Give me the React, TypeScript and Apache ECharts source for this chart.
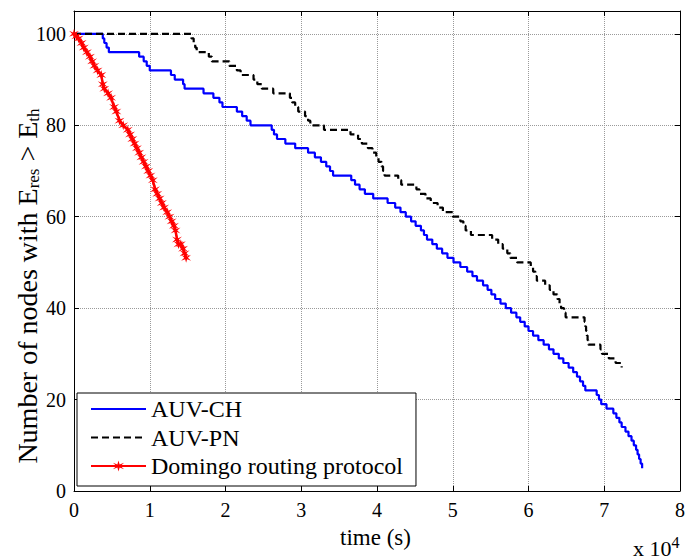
import React, { useEffect, useRef } from "react";
import * as echarts from "echarts";

// time in units of 1e4 s, number of nodes (step changes)
const auvChT = [0, 0.38, 0.40, 0.43, 0.46, 0.86, 0.92, 0.96, 1.00, 1.28, 1.33, 1.44, 1.46, 1.71, 1.84, 1.92, 1.96, 2.15, 2.22, 2.28, 2.33, 2.61, 2.64, 2.68, 2.79, 2.92, 3.09, 3.18, 3.26, 3.33, 3.38, 3.42, 3.66, 3.71, 3.77, 3.84, 3.95, 4.14, 4.24, 4.31, 4.38, 4.45, 4.51, 4.58, 4.62, 4.66, 4.73, 4.79, 4.86, 4.93, 5.01, 5.10, 5.19, 5.26, 5.32, 5.40, 5.46, 5.51, 5.56, 5.63, 5.70, 5.77, 5.84, 5.89, 5.95, 6.00, 6.06, 6.13, 6.20, 6.27, 6.33, 6.40, 6.46, 6.53, 6.59, 6.64, 6.68, 6.72, 6.75, 6.90, 6.93, 6.96, 7.03, 7.12, 7.16, 7.20, 7.23, 7.28, 7.32, 7.36, 7.39, 7.42, 7.44, 7.46, 7.48, 7.50];
const auvChN = [100, 99, 98, 97, 96, 95, 94, 93, 92, 91, 90, 89, 88, 87, 86, 85, 84, 83, 82, 81, 80, 79, 78, 77, 76, 75, 74, 73, 72, 71, 70, 69, 68, 67, 66, 65, 64, 63, 62, 61, 60, 59, 58, 57, 56, 55, 54, 53, 52, 51, 50, 49, 48, 47, 46, 45, 44, 43, 42, 41, 40, 39, 38, 37, 36, 35, 34, 33, 32, 31, 30, 29, 28, 27, 26, 25, 24, 23, 22, 21, 20, 19, 18, 17, 16, 15, 14, 13, 12, 11, 10, 9, 8, 7, 6, 5];

const auvPnT = [0, 1.55, 1.58, 1.60, 1.62, 1.78, 1.82, 2.05, 2.15, 2.20, 2.37, 2.42, 2.48, 2.63, 2.85, 2.88, 2.92, 2.96, 3.05, 3.09, 3.12, 3.30, 3.65, 3.75, 3.80, 3.88, 3.94, 3.99, 4.02, 4.06, 4.08, 4.10, 4.28, 4.32, 4.52, 4.56, 4.64, 4.71, 4.80, 4.87, 5.00, 5.10, 5.14, 5.17, 5.24, 5.52, 5.60, 5.66, 5.72, 5.76, 5.85, 6.03, 6.06, 6.09, 6.11, 6.22, 6.28, 6.33, 6.38, 6.41, 6.43, 6.47, 6.49, 6.74, 6.75, 6.76, 6.77, 6.78, 6.79, 6.95, 6.97, 7.06, 7.15, 7.23];
const auvPnN = [100, 99, 98, 97, 96, 95, 94, 93, 92, 91, 90, 89, 88, 87, 86, 85, 84, 83, 82, 81, 80, 79, 78, 77, 76, 75, 74, 73, 72, 71, 70, 69, 68, 67, 66, 65, 64, 63, 62, 61, 60, 59, 58, 57, 56, 55, 54, 53, 52, 51, 50, 49, 48, 47, 46, 45, 44, 43, 42, 41, 40, 39, 38, 37, 36, 35, 34, 33, 32, 31, 30, 29, 28, 27, 26];

const domingoT = [0, 0.03, 0.06, 0.10, 0.13, 0.17, 0.21, 0.24, 0.27, 0.31, 0.36, 0.38, 0.40, 0.45, 0.49, 0.53, 0.56, 0.60, 0.65, 0.71, 0.74, 0.77, 0.80, 0.83, 0.86, 0.89, 0.92, 0.95, 0.98, 1.01, 1.04, 1.07, 1.10, 1.13, 1.16, 1.19, 1.23, 1.26, 1.29, 1.32, 1.34, 1.36, 1.38, 1.41, 1.44, 1.46, 1.48];
const domingoN = [100, 99.5, 99, 98, 97, 96, 95, 94, 93, 92, 91, 89, 88, 87, 86, 84, 83, 81, 80, 79, 78, 77, 76, 75, 74, 73, 72, 71, 70, 69, 68, 66, 65, 64, 63, 62, 61, 60, 59, 58, 57, 55, 54, 54, 53, 52, 51];

const seriesNames = ["AUV-CH", "AUV-PN", "Domingo routing protocol"];
const xMin = 0, xMax = 8, xStep = 1;
const yMin = 0, yMax = 105, yStep = 20;

const zip = (a: number[], b: number[]) => a.map((v, i) => [v, b[i]]);

const FONT = "'Liberation Serif', 'Times New Roman', serif";
const STAR = "path://M5,0 L5.9,3.6 L9.5,2 L6.6,5 L9.5,8 L5.9,6.4 L5,10 L4.1,6.4 L0.5,8 L3.4,5 L0.5,2 L4.1,3.6 Z";

export default function App() {
  const ref = useRef<HTMLDivElement>(null);
  useEffect(() => {
    if (!ref.current) return;
    const chart = echarts.init(ref.current, null, { renderer: "svg" });
    const grid = { left: 74, right: 4, top: 11, bottom: 69 };
    const gridSplit = { show: true, lineStyle: { color: "#9a9a9a", type: [1, 1] as any, width: 1 } };
    chart.setOption({
      animation: false,
      backgroundColor: "#fff",
      grid,
      xAxis: [
        {
          type: "value", min: xMin, max: xMax, interval: xStep, position: "bottom",
          axisLine: { show: true, onZero: false, lineStyle: { color: "#000", width: 1 } },
          axisTick: { show: true, inside: true, length: 5, lineStyle: { color: "#000" } },
          axisLabel: { color: "#000", fontFamily: FONT, fontSize: 20, margin: 9 },
          splitLine: gridSplit,
        },
        {
          type: "value", min: xMin, max: xMax, interval: xStep, position: "top",
          axisLine: { show: true, onZero: false, lineStyle: { color: "#000", width: 1 } },
          axisTick: { show: true, inside: true, length: 5, lineStyle: { color: "#000" } },
          axisLabel: { show: false },
          splitLine: { show: false },
        },
      ],
      yAxis: [
        {
          type: "value", min: yMin, max: yMax, interval: yStep, position: "left",
          axisLine: { show: true, onZero: false, lineStyle: { color: "#000", width: 1 } },
          axisTick: { show: true, inside: true, length: 5, lineStyle: { color: "#000" } },
          axisLabel: { color: "#000", fontFamily: FONT, fontSize: 20, margin: 8, showMaxLabel: false },
          splitLine: gridSplit,
        },
        {
          type: "value", min: yMin, max: yMax, interval: yStep, position: "right",
          axisLine: { show: true, onZero: false, lineStyle: { color: "#000", width: 1 } },
          axisTick: { show: true, inside: true, length: 5, lineStyle: { color: "#000" } },
          axisLabel: { show: false },
          splitLine: { show: false },
        },
      ],
      legend: {
        orient: "vertical", left: 77, top: 393,
        padding: [4, 13, 8, 13], itemGap: 4.5, itemWidth: 55, itemHeight: 14,
        borderColor: "#000", borderWidth: 1, backgroundColor: "#fff",
        textStyle: { fontFamily: FONT, fontSize: 24, color: "#000", lineHeight: 24 },
        data: [
          { name: seriesNames[0], itemStyle: { opacity: 0 } },
          { name: seriesNames[1], itemStyle: { opacity: 0 } },
          { name: seriesNames[2] },
        ],
      },
      series: [
        {
          name: seriesNames[0], type: "line", step: "end", data: zip(auvChT, auvChN),
          showSymbol: false, symbol: "none",
          lineStyle: { color: "#0000ff", width: 2.2 }, itemStyle: { color: "#0000ff" }, z: 3,
        },
        {
          name: seriesNames[1], type: "line", step: "end", data: zip(auvPnT, auvPnN),
          showSymbol: false, symbol: "none",
          lineStyle: { color: "#000", width: 2.2, type: [7, 4] }, itemStyle: { color: "#000" }, z: 3,
        },
        {
          name: seriesNames[2], type: "line", data: zip(domingoT, domingoN),
          symbol: STAR, symbolSize: 10, showSymbol: true,
          lineStyle: { color: "#ff0000", width: 2.5 }, itemStyle: { color: "#ff0000" }, z: 3,
        },
      ],
      graphic: [
        {
          type: "text", left: 340, top: 526,
          style: { text: "time (s)", fontFamily: FONT, fontSize: 23, fill: "#000" },
        },
        {
          type: "text", left: 633, top: 534,
          style: {
            text: "x 10{sup|4}", fontFamily: FONT, fontSize: 22, fill: "#000",
            rich: { sup: { fontFamily: FONT, fontSize: 16, verticalAlign: "top", padding: [0, 0, 12, 0] } },
          },
        },
        {
          type: "text", x: 27, y: 286, rotation: Math.PI / 2,
          style: {
            text: "Number of nodes with E{sub|res} > E{sub|th}",
            fontFamily: FONT, fontSize: 28, fill: "#000", align: "center", verticalAlign: "middle",
            rich: { sub: { fontFamily: FONT, fontSize: 17, padding: [13, 0, 0, 0] } },
          },
        },
      ],
    });
    return () => chart.dispose();
  }, []);
  return <div ref={ref} style={{ width: 688, height: 560, position: "absolute", left: 0, top: 0 }} />;
}
